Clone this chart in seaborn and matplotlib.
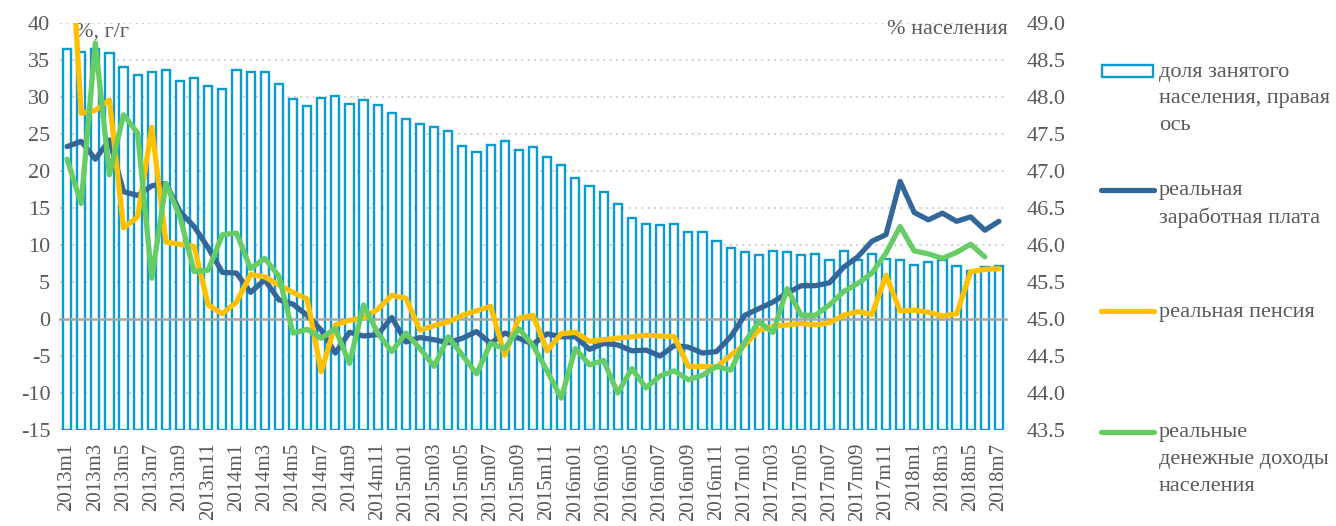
import numpy as np
import pandas as pd
import matplotlib
matplotlib.use("Agg")
import matplotlib.pyplot as plt
import seaborn as sns
from matplotlib.lines import Line2D
from matplotlib.patches import Rectangle

# ---------------- data ----------------
def month_label(k):
    y, m = 2013 + k // 12, k % 12 + 1
    return f"{y}m{m:02d}" if 2015 <= y <= 2017 else f"{y}m{m}"

months = [month_label(k) for k in range(67)]

employment = [48.65, 48.61, 48.65, 48.59, 48.41, 48.30, 48.34, 48.36, 48.22, 48.26, 48.15, 48.11,
              48.36, 48.34, 48.34, 48.17, 47.97, 47.88, 47.98, 48.02, 47.91, 47.96, 47.89, 47.79,
              47.70, 47.64, 47.59, 47.54, 47.34, 47.26, 47.35, 47.41, 47.29, 47.32, 47.19, 47.08,
              46.91, 46.80, 46.71, 46.55, 46.37, 46.28, 46.27, 46.29, 46.17, 46.17, 46.06, 45.96,
              45.91, 45.86, 45.92, 45.90, 45.86, 45.88, 45.80, 45.92, 45.80, 45.88, 45.81, 45.80,
              45.73, 45.77, 45.80, 45.72, 45.65, 45.70, 45.72]

wage = [23.3, 24.0, 21.6, 24.2, 17.2, 16.7, 18.0, 18.3, 14.5, 12.5, 9.6, 6.3,
        6.2, 3.6, 5.3, 2.6, 2.0, 0.5, -1.5, -4.6, -1.8, -2.3, -2.1, 0.2,
        -3.1, -2.5, -2.8, -3.2, -2.6, -1.7, -3.3, -1.9, -2.6, -3.4, -2.0, -2.4,
        -2.4, -4.1, -3.3, -3.5, -4.3, -4.2, -5.0, -3.6, -3.8, -4.6, -4.4, -2.4,
        0.5, 1.4, 2.3, 3.5, 4.5, 4.5, 4.9, 7.0, 8.4, 10.5, 11.4, 18.6,
        14.4, 13.4, 14.3, 13.2, 13.8, 12.0, 13.2]

pension = [60.0, 27.8, 28.2, 29.6, 12.3, 13.8, 25.9, 10.4, 10.1, 9.8, 1.9, 0.7,
           2.3, 6.0, 5.7, 4.6, 3.6, 2.7, -7.1, -0.8, -0.2, 0.2, 1.3, 3.2,
           2.8, -1.5, -0.9, -0.4, 0.5, 1.1, 1.7, -4.9, 0.1, 0.5, -4.3, -2.0,
           -1.8, -3.0, -2.8, -2.6, -2.4, -2.2, -2.3, -2.4, -6.4, -6.4, -6.5, -4.9,
           -3.5, -1.5, -1.0, -0.8, -0.6, -0.8, -0.5, 0.5, 1.0, 0.6, 5.9, 1.1,
           1.2, 0.9, 0.4, 0.7, 6.4, 6.7, 6.8]

income = [21.6, 15.6, 37.3, 19.5, 27.6, 25.1, 5.5, 18.3, 13.8, 6.4, 6.6, 11.4,
          11.6, 6.8, 8.2, 5.8, -1.9, -1.4, -2.6, -1.3, -6.0, 1.9, -1.9, -4.4,
          -1.9, -4.0, -6.4, -2.4, -4.9, -7.4, -3.3, -4.0, -1.3, -3.6, -7.0, -10.7,
          -4.0, -6.2, -5.6, -10.0, -6.7, -9.3, -7.7, -7.0, -8.2, -7.6, -6.4, -6.9,
          -3.1, -0.4, -1.8, 4.1, 0.5, 0.5, 1.9, 3.7, 4.8, 6.2, 8.9, 12.5,
          9.2, 8.8, 8.2, 9.0, 10.1, 8.4, np.nan]

legend_labels = ["доля занятого\nнаселения, правая\nось",
                 "реальная\nзаработная плата",
                 "реальная пенсия",
                 "реальные\nденежные доходы\nнаселения"]
left_title = "%, г/г"
right_title = "% населения"

# ---------------- style ----------------
BAR = "#0A9BD0"
C_WAGE = "#336699"
C_PENS = "#FFC000"
C_INC = "#66CC66"
GRAY = "#595959"
AXGRAY = "#A6A6A6"
FONT = ["Liberation Serif", "DejaVu Serif"]
FS = 16

sns.set_theme(style="white")
plt.rcParams["font.family"] = FONT
plt.rcParams["axes.unicode_minus"] = False

W, H = 1336, 526
fig = plt.figure(figsize=(W / 100, H / 100), dpi=100)
rect = [60 / W, 1 - 430 / H, (1006 - 60) / W, (430 - 23) / H]
ax_b = fig.add_axes(rect)
ax_l = fig.add_axes(rect)
ax_l.patch.set_visible(False)

EMP_MIN, EMP_MAX = 43.5, 49.0

# bars (right axis)
dfb = pd.DataFrame({"month": months, "emp": employment})
sns.barplot(data=dfb, x="month", y="emp", ax=ax_b, color="white", edgecolor=BAR,
            linewidth=1.7, width=0.58, saturation=1, errorbar=None, zorder=2)
for p in ax_b.patches:
    h = p.get_height()
    p.set_y(EMP_MIN)
    p.set_height(h - EMP_MIN)

ax_b.set_ylim(EMP_MIN, EMP_MAX)
ax_b.set_xlim(-0.5, len(months) - 0.5)
ax_b.yaxis.tick_right()
ax_b.set_yticks(np.arange(EMP_MIN, EMP_MAX + 0.01, 0.5))
ax_b.set_yticklabels([f"{v:.1f}" for v in np.arange(EMP_MIN, EMP_MAX + 0.01, 0.5)])
ax_b.set_xticks(range(0, len(months), 2))
ax_b.set_xticklabels(months[::2], rotation=90)
ax_b.tick_params(axis="y", length=0, pad=15, labelsize=FS, labelcolor=GRAY)
ax_b.tick_params(axis="x", length=0, pad=9, labelsize=15, labelcolor=GRAY)
ax_b.set_xlabel("")
ax_b.set_ylabel("")
ax_b.grid(axis="y", linestyle=(0, (1, 2.5)), color="#C8C8C8", linewidth=1.3)
ax_b.set_axisbelow(True)
for s in ax_b.spines.values():
    s.set_visible(False)

# lines (left axis)
pos = np.arange(len(months))
for vals, col in [(wage, C_WAGE), (pension, C_PENS), (income, C_INC)]:
    sns.lineplot(x=pos, y=vals, ax=ax_l, color=col, linewidth=3.8, zorder=3)

ax_l.set_ylim(-15, 40)
ax_l.set_xlim(-0.5, len(months) - 0.5)
ax_l.set_yticks(range(-15, 41, 5))
ax_l.tick_params(axis="y", length=0, pad=7, labelsize=FS, labelcolor=GRAY)
ax_l.set_xticks([])
ax_l.set_xticks(np.arange(-0.5, len(months), 1), minor=True)
ax_l.tick_params(axis="x", which="minor", direction="out", length=5, width=1.3,
                 color=AXGRAY, labelbottom=False)
for k in ["top", "left", "right"]:
    ax_l.spines[k].set_visible(False)
ax_l.spines["bottom"].set_position(("data", 0))
ax_l.spines["bottom"].set_color(AXGRAY)
ax_l.spines["bottom"].set_linewidth(1.8)
ax_l.spines["bottom"].set_zorder(2.5)
ax_l.set_xlabel("")
ax_l.set_ylabel("")

ax_l.text(0.016, 0.978, left_title, transform=ax_l.transAxes, ha="left", va="center",
          fontsize=FS, color=GRAY, zorder=1)
ax_l.text(1.002, 0.983, right_title, transform=ax_l.transAxes, ha="right", va="center",
          fontsize=FS, color=GRAY, zorder=1)

# legend (manual, right side)
def fx(x):
    return x / W

def fy(y):
    return 1 - y / H

handle_y = [71, 190, 311, 432]
styles = [("bar", BAR), ("line", C_WAGE), ("line", C_PENS), ("line", C_INC)]
for (kind, col), yy, lab in zip(styles, handle_y, legend_labels):
    if kind == "bar":
        fig.add_artist(Rectangle((fx(1102), fy(yy + 6)), fx(1153) - fx(1102), 12 / H,
                                 transform=fig.transFigure, facecolor="white",
                                 edgecolor=col, linewidth=1.7))
    else:
        fig.add_artist(Line2D([fx(1101), fx(1154)], [fy(yy), fy(yy)],
                              transform=fig.transFigure, color=col, linewidth=3.8,
                              solid_capstyle="round"))
    for j, line in enumerate(lab.split("\n")):
        fig.text(fx(1159), fy(yy + 1 + j * 26.7), line, ha="left", va="center",
                 fontsize=FS, color=GRAY)

fig.savefig("out.png", dpi=100)
